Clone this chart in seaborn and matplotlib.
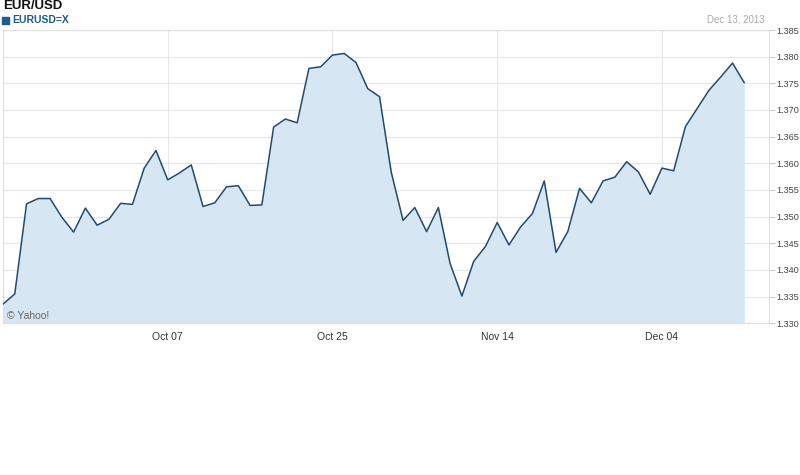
import numpy as np
import pandas as pd
import matplotlib
matplotlib.use('Agg')
import matplotlib.pyplot as plt
import seaborn as sns
from matplotlib.patches import Rectangle

# EUR/USD daily close, trading days 17 Sep 2013 - 13 Dec 2013
dates = pd.bdate_range('2013-09-17', '2013-12-13')
rates = [1.3336, 1.3355, 1.3524, 1.3534, 1.3534, 1.3499, 1.3471, 1.3516,
         1.3484, 1.3495, 1.3525, 1.3523, 1.3591, 1.3624, 1.3569, 1.3582,
         1.3597, 1.3519, 1.3526, 1.3556, 1.3558, 1.3521, 1.3522, 1.3668,
         1.3683, 1.3676, 1.3778, 1.3781, 1.3803, 1.3806, 1.3789, 1.3740,
         1.3725, 1.3583, 1.3493, 1.3517, 1.3472, 1.3517, 1.3412, 1.3351,
         1.3416, 1.3444, 1.3489, 1.3447, 1.3481, 1.3506, 1.3567, 1.3433,
         1.3472, 1.3553, 1.3526, 1.3567, 1.3574, 1.3603, 1.3584, 1.3542,
         1.3591, 1.3586, 1.3669, 1.3703, 1.3737, 1.3762, 1.3788, 1.3751]
tick_dates = ['2013-10-07', '2013-10-25', '2013-11-14', '2013-12-04']
tick_labels = ['Oct 07', 'Oct 25', 'Nov 14', 'Dec 04']
y_ticks = [1.330, 1.335, 1.340, 1.345, 1.350, 1.355, 1.360, 1.365,
           1.370, 1.375, 1.380, 1.385]

df = pd.DataFrame({'date': dates, 'rate': rates})
df['pos'] = np.arange(len(df))  # trading-day axis, no weekend gaps

sns.set_style('white')
plt.rcParams['font.family'] = ['Liberation Sans', 'DejaVu Sans']

fig = plt.figure(figsize=(8, 4.75), dpi=100)
ax = fig.add_axes([3 / 800, 1 - 323.3 / 475, 766 / 800, 293.3 / 475])

ax.fill_between(df['pos'], df['rate'], 1.3297, color='#d6e6f2', lw=0, zorder=1)
sns.lineplot(data=df, x='pos', y='rate', ax=ax, color='#24496f', lw=1.1, zorder=3)

ax.set_xlim(0, 65.1)
ax.set_ylim(1.330, 1.385)
ax.set_xlabel('')
ax.set_ylabel('')

# y axis on the right
ax.yaxis.tick_right()
ax.set_yticks(y_ticks)
ax.set_yticklabels(['%.3f' % v for v in y_ticks])
ax.tick_params(axis='y', length=4, width=0.8, color='#cccccc', pad=1,
               labelsize=6.6, labelcolor='#444444')

# x axis: major ticks at labelled dates, minor half way between
date_list = list(df['date'].dt.strftime('%Y-%m-%d'))
major = [date_list.index(d) for d in tick_dates]
ax.set_xticks(major)
ax.set_xticklabels(tick_labels)
ax.set_xticks([m - 7 for m in major] + [major[-1] + 7], minor=True)
ax.tick_params(axis='x', which='major', length=3, width=0.8, color='#dddddd',
               pad=3, labelsize=7.5, labelcolor='#333333')
ax.tick_params(axis='x', which='minor', length=2, width=0.8, color='#dddddd')

ax.grid(axis='y', color='#e6e6e6', lw=0.8, zorder=0)
ax.grid(axis='x', which='major', color='#e3e8ec', lw=0.8, zorder=2)
for s in ax.spines.values():
    s.set_color('#e0e0e0')
    s.set_linewidth(0.8)

# header texts
fig.text(3 / 800, 1 - 6 / 475, 'EUR/USD', fontsize=9.5, fontweight='bold',
         color='#111111', va='center', ha='left')
fig.patches.append(Rectangle((2 / 800, 1 - 24 / 475), 7 / 800, 7 / 475,
                             transform=fig.transFigure, color='#1f5b8f'))
fig.text(12 / 800, 1 - 20 / 475, 'EURUSD=X', fontsize=7.5, fontweight='bold',
         color='#1f5b8f', va='center', ha='left')
fig.text(765 / 800, 1 - 19 / 475, 'Dec 13, 2013', fontsize=7, color='#aaaaaa',
         va='center', ha='right')
fig.text(7 / 800, 1 - 316 / 475, '\u00a9 Yahoo!', fontsize=7.5, color='#666666',
         va='center', ha='left')

fig.savefig('out.png', dpi=100)
